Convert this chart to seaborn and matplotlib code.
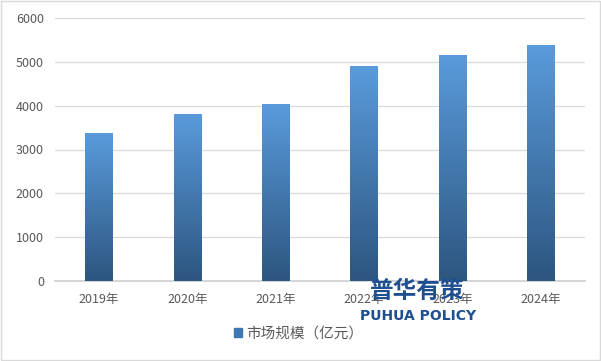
import numpy as np
import pandas as pd
import seaborn as sns
import matplotlib.pyplot as plt
from matplotlib.patches import Rectangle

# Data
years = ['2019年', '2020年', '2021年', '2022年', '2023年', '2024年']
market_size = [3380, 3810, 4040, 4910, 5160, 5390]
series_name = '市场规模（亿元）'

df = pd.DataFrame({'year': years, 'value': market_size})

sns.set_theme(style='white')
plt.rcParams['font.family'] = ['Noto Sans CJK SC', 'DejaVu Sans']

fig = plt.figure(figsize=(6.01, 3.61), dpi=100)
ax = fig.add_axes([55 / 601, 1 - 281 / 361, 530 / 601, 263 / 361])

sns.barplot(data=df, x='year', y='value', color='#4a86c5', width=0.31, ax=ax, zorder=2)

# gradient fill inside each bar
grad = np.linspace(0, 1, 256).reshape(-1, 1)
cmap = plt.matplotlib.colors.LinearSegmentedColormap.from_list('bar', ['#2d5680', '#5a9bdc'])
for bar in list(ax.patches):
    x0, y0 = bar.get_x(), bar.get_y()
    w, h = bar.get_width(), bar.get_height()
    im = ax.imshow(grad, extent=[x0, x0 + w, y0, y0 + h], origin='lower',
                   cmap=cmap, aspect='auto', zorder=3)
    im.set_clip_path(bar)
    bar.set_alpha(0)

ax.set_xlim(-0.5, 5.5)
ax.set_ylim(0, 6000)
ax.set_yticks(range(0, 6001, 1000))
ax.yaxis.grid(True, color='#d9d9d9', linewidth=0.9, zorder=0)
ax.set_xlabel('')
ax.set_ylabel('')
for s in ['top', 'right', 'left']:
    ax.spines[s].set_visible(False)
ax.spines['bottom'].set_color('#d0d0d0')
ax.tick_params(axis='both', length=0, labelsize=9, labelcolor='#595959', pad=8)
ax.tick_params(axis='x', pad=9)

# legend
handle = Rectangle((0, 0), 1, 1, color='#3f77b3')
fig.legend([handle], [series_name], loc='center', bbox_to_anchor=(0.497, 1 - 334 / 361),
           frameon=False, fontsize=10.5, handlelength=0.55, handleheight=0.55,
           handletextpad=0.25, labelcolor='#595959')

# watermark
fig.text(0.695, 1 - 291 / 361, '普华有策', fontsize=17, fontweight='bold',
         color='#1d4f91', ha='center', va='center', zorder=10)
fig.text(0.695, 1 - 316 / 361, 'PUHUA POLICY', fontsize=10, fontweight='bold',
         color='#1d4f91', ha='center', va='center', zorder=10,
         family=['Liberation Sans Narrow', 'DejaVu Sans'])

# figure border
fig.patches.append(Rectangle((0.002, 0.003), 0.996, 0.994, transform=fig.transFigure,
                             fill=False, edgecolor='#d9d9d9', linewidth=1))

fig.savefig('out.png', dpi=100)
